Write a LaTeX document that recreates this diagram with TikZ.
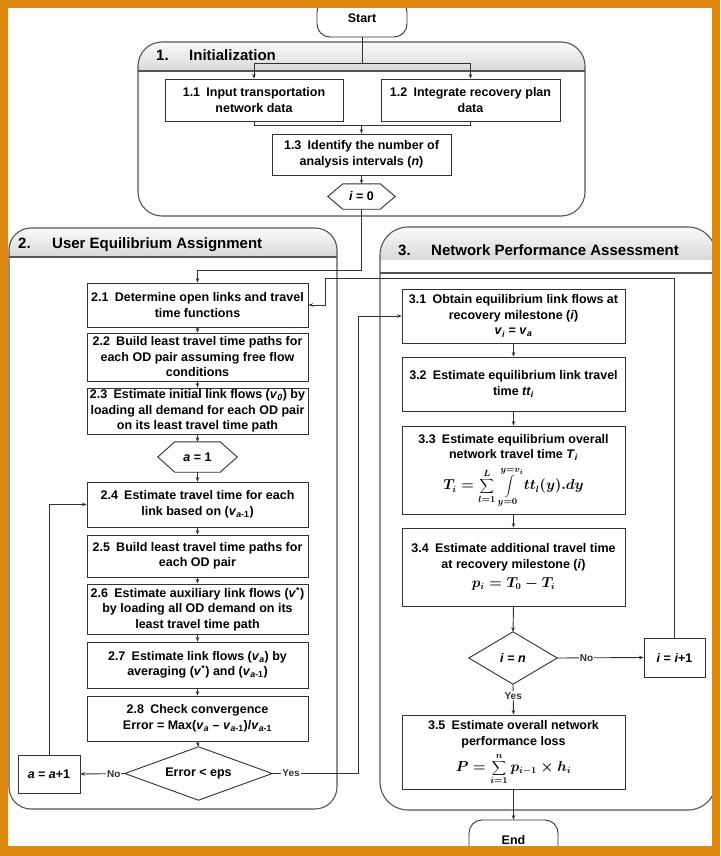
\documentclass[tikz,border=0pt]{standalone}
\usepackage[no-math]{fontspec}
\setmainfont{Liberation Sans}
\usetikzlibrary{arrows.meta,calc}
\definecolor{frameorange}{RGB}{222,136,14}
\definecolor{linecol}{RGB}{50,50,50}
\definecolor{secline}{RGB}{85,85,85}
\definecolor{bgcol}{RGB}{253,254,252}
\newcommand{\bfmathx}[1]{{\fontsize{13.5}{16}\selectfont\boldmath$\displaystyle #1$}}
\tikzset{
  box/.style={draw=linecol, line width=0.9pt, fill=white, inner sep=0pt, align=center,
     font=\bfseries\fontsize{12.5}{15.5}\selectfont},
  fbox/.style={draw=linecol, line width=0.9pt, fill=white, inner sep=0pt,
     font=\bfseries\fontsize{12.5}{15.5}\selectfont},
  plain/.style={inner sep=0pt, align=center, font=\bfseries\fontsize{12.5}{15.5}\selectfont},
  shapeline/.style={draw=linecol, line width=0.9pt},
  conn/.style={draw=linecol, line width=0.9pt, -{Stealth[length=4.5pt,width=3.6pt]}},
  wire/.style={draw=linecol, line width=0.9pt},
  lbl/.style={fill=white, inner sep=1pt, font=\bfseries\fontsize{10}{12}\selectfont, text=linecol},
  sectitle/.style={inner sep=0pt, anchor=base west, font=\bfseries\fontsize{15}{18}\selectfont},
  secbox/.style={draw=secline, line width=1.1pt},
  terminal/.style={draw=linecol, line width=0.9pt, fill=white, rounded corners=13pt, inner sep=0pt,
     font=\bfseries\fontsize{12.5}{15}\selectfont},
}
\begin{document}
\begin{tikzpicture}[x=1pt,y=-1pt]
\useasboundingbox (0,0) rectangle (720,856);
\fill[bgcol] (0,0) rectangle (720,856);

% ---------- section frames ----------
\begin{scope}
 \clip[rounded corners=24pt] (138,42) rectangle (585,216);
 \shade[top color=gray!4, bottom color=gray!30] (138,42) rectangle (585,71);
\end{scope}
\draw[secbox, rounded corners=24pt] (138,42) rectangle (585,216);
\draw[secbox] (138,71) -- (585,71);

\begin{scope}
 \clip[rounded corners=22pt] (9,228) rectangle (337,809);
 \shade[top color=gray!4, bottom color=gray!30] (9,228) rectangle (337,257);
\end{scope}
\draw[secbox, rounded corners=22pt] (9,228) rectangle (337,809);
\draw[secbox] (9,257) -- (337,257);

\begin{scope}
 \clip[rounded corners=28pt] (380,227) rectangle (716,810);
 \shade[top color=gray!4, bottom color=gray!30] (380,227) rectangle (716,259);
\end{scope}
\draw[secbox, rounded corners=28pt] (380,227) rectangle (716,810);
\draw[secbox] (380,273) -- (716,273);

\node[sectitle] (t1n) at (156,60.5) {1.};
\node[sectitle] (t1) at (189,60.5) {Initialization};
\node[sectitle] (t2n) at (18,248.5) {2.};
\node[sectitle] (t2) at (52,248.5) {User Equilibrium Assignment};
\node[sectitle] (t3n) at (398,255.5) {3.};
\node[sectitle] (t3) at (431,255.5) {Network Performance Assessment};

% ---------- nodes ----------
\node[terminal, minimum width=90pt, minimum height=38pt] (start) at (362,18) {Start};
\node[box, minimum width=178pt, minimum height=42pt] (b11) at (254,100) {1.1\enspace Input transportation\\network data};
\node[box, minimum width=179pt, minimum height=42pt] (b12) at (470.5,100) {1.2\enspace Integrate recovery plan\\data};
\node[box, minimum width=179pt, minimum height=41pt] (b13) at (361.5,154.5) {1.3\enspace Identify the number of\\analysis intervals (\textit{n})};
\node[plain, minimum width=67pt, minimum height=25pt] (i0) at (361.5,196.5) {\textit{i} = 0};
\draw[shapeline] (i0.west) -- ([xshift=15pt]i0.north west) -- ([xshift=-15pt]i0.north east) -- (i0.east)
   -- ([xshift=-15pt]i0.south east) -- ([xshift=15pt]i0.south west) -- cycle;

\node[box, minimum width=221pt, minimum height=44pt] (b21) at (197.5,305) {2.1\enspace Determine open links and travel\\time functions};
\node[box, minimum width=221pt, minimum height=48pt] (b22) at (197.5,357) {2.2\enspace Build least travel time paths for\\each OD pair assuming free flow\\conditions};
\node[box, minimum width=221pt, minimum height=46pt] (b23) at (197.5,411) {2.3\enspace Estimate initial link flows (\textit{v}\textsubscript{\textit{0}}) by\\loading all demand for each OD pair\\on its least travel time path};
\node[plain, minimum width=79pt, minimum height=30pt] (a1) at (197.5,457) {\textit{a} = 1};
\draw[shapeline] (a1.west) -- ([xshift=17pt]a1.north west) -- ([xshift=-17pt]a1.north east) -- (a1.east)
   -- ([xshift=-17pt]a1.south east) -- ([xshift=17pt]a1.south west) -- cycle;
\node[box, minimum width=221pt, minimum height=45pt] (b24) at (197.5,504.5) {2.4\enspace Estimate travel time for each\\link based on (\textit{v}\textsubscript{\textit{a}-1})};
\node[box, minimum width=221pt, minimum height=42pt] (b25) at (197.5,556) {2.5\enspace Build least travel time paths for\\each OD pair};
\node[box, minimum width=221pt, minimum height=50pt] (b26) at (197.5,609) {2.6\enspace Estimate auxiliary link flows (\textit{v}\textsuperscript{*})\\by loading all OD demand on its\\least travel time path};
\node[box, minimum width=221pt, minimum height=46pt] (b27) at (197.5,665) {2.7\enspace Estimate link flows (\textit{v}\textsubscript{\textit{a}}) by\\averaging (\textit{v}\textsuperscript{*}) and (\textit{v}\textsubscript{\textit{a}-1})};
\node[box, minimum width=221pt, minimum height=45pt] (b28) at (197.5,718.5) {2.8\enspace Check convergence\\Error = Max(\textit{v}\textsubscript{\textit{a}} – \textit{v}\textsubscript{\textit{a}-1})/\textit{v}\textsubscript{\textit{a}-1}};
\node[plain, minimum width=147pt, minimum height=53pt] (d1) at (198.5,773.5) {Error < eps};
\draw[shapeline] (d1.north) -- (d1.east) -- (d1.south) -- (d1.west) -- cycle;
\node[box, minimum width=62pt, minimum height=38pt] (aa) at (49,774) {\textit{a} = \textit{a}+1};

\node[box, minimum width=223pt, minimum height=54pt] (b31) at (513.5,316) {3.1\enspace Obtain equilibrium link flows at\\recovery milestone (\textit{i})\\\textit{v}\textsubscript{\textit{i}} = \textit{v}\textsubscript{\textit{a}}};
\node[box, minimum width=223pt, minimum height=54pt] (b32) at (513.5,384) {3.2\enspace Estimate equilibrium link travel\\time \textit{tt}\textsubscript{\textit{i}}};
\node[fbox, minimum width=223pt, minimum height=88pt] (b33) at (513.5,470) {\begin{tabular}{@{}c@{}}3.3\enspace Estimate equilibrium overall\\network travel time \textit{T}\textsubscript{\textit{i}}\\[4pt]
   \bfmathx{T_i=\sum_{l=1}^{L}\int\limits_{y=0}^{y=v_i} tt_l(y).dy}\end{tabular}};
\node[fbox, minimum width=223pt, minimum height=78pt] (b34) at (513.5,567) {\begin{tabular}{@{}c@{}}3.4\enspace Estimate additional travel time\\at recovery milestone (\textit{i})\\[4pt]
   \bfmathx{p_i = T_0 - T_i}\end{tabular}};
\node[plain, minimum width=88pt, minimum height=52pt] (dn) at (513,658) {\textit{i} = \textit{n}};
\draw[shapeline] (dn.north) -- (dn.east) -- (dn.south) -- (dn.west) -- cycle;
\node[box, minimum width=61pt, minimum height=39pt] (ii) at (674.5,657.5) {\textit{i} = \textit{i}+1};
\node[fbox, minimum width=223pt, minimum height=74pt] (b35) at (513.5,752) {\begin{tabular}{@{}c@{}}3.5\enspace Estimate overall network\\performance loss\\[3pt]
   \bfmathx{P=\sum_{i=1}^{n} p_{i-1}\times h_i}\end{tabular}};
\node[terminal, minimum width=89pt, minimum height=40pt] (end) at (513.5,840) {End};

% ---------- connectors ----------
\coordinate (dist) at (362,63);
\draw[wire] (start.south) -- (dist);
\draw[conn] (dist) -| (b11.north);
\draw[conn] (dist) -| (b12.north);
\coordinate (merge) at (361.5,125);
\draw[wire] (b11.south) |- (merge);
\draw[wire] (b12.south) |- (merge);
\draw[conn] (merge) -- (b13.north);
\draw[conn] (b13.south) -- (i0.north);
\coordinate (c20) at (361.5,270);
\draw[conn] (i0.south) -- (c20) -| (b21.north);

\draw[conn] (b21.south) -- (b22.north);
\draw[conn] (b22.south) -- (b23.north);
\draw[conn] (b23.south) -- (a1.north);
\draw[conn] (a1.south) -- (b24.north);
\draw[conn] (b24.south) -- (b25.north);
\draw[conn] (b25.south) -- (b26.north);
\draw[conn] (b26.south) -- (b27.north);
\draw[conn] (b27.south) -- (b28.north);
\draw[conn] (b28.south) -- (d1.north);
\draw[conn] (d1.west) -- node[lbl,pos=0.25]{No} (aa.east);
\draw[conn] (aa.north) |- (b24.west);
\coordinate (yesc) at (358,773.5);
\draw[conn] (d1.east) -- node[lbl,pos=0.22]{Yes} (yesc) |- (b31.west);

\draw[conn] (b31.south) -- (b32.north);
\draw[conn] (b32.south) -- (b33.north);
\draw[conn] (b33.south) -- (b34.north);
\draw[conn] (b34.south) -- (dn.north);
\draw[conn] (dn.east) -- node[lbl,pos=0.34]{No} (ii.west);
\draw[conn] (dn.south) -- node[lbl,pos=0.38]{Yes} (b35.north);
\draw[conn] (b35.south) -- (end.north);
\coordinate (loopc) at (325,278);
\draw[conn] (ii.north) |- (loopc) |- (b21.east);

% ---------- outer frame ----------
\fill[frameorange, even odd rule] (0,0) rectangle (720,856) (8,8) rectangle (712,846);
\end{tikzpicture}
\end{document}
